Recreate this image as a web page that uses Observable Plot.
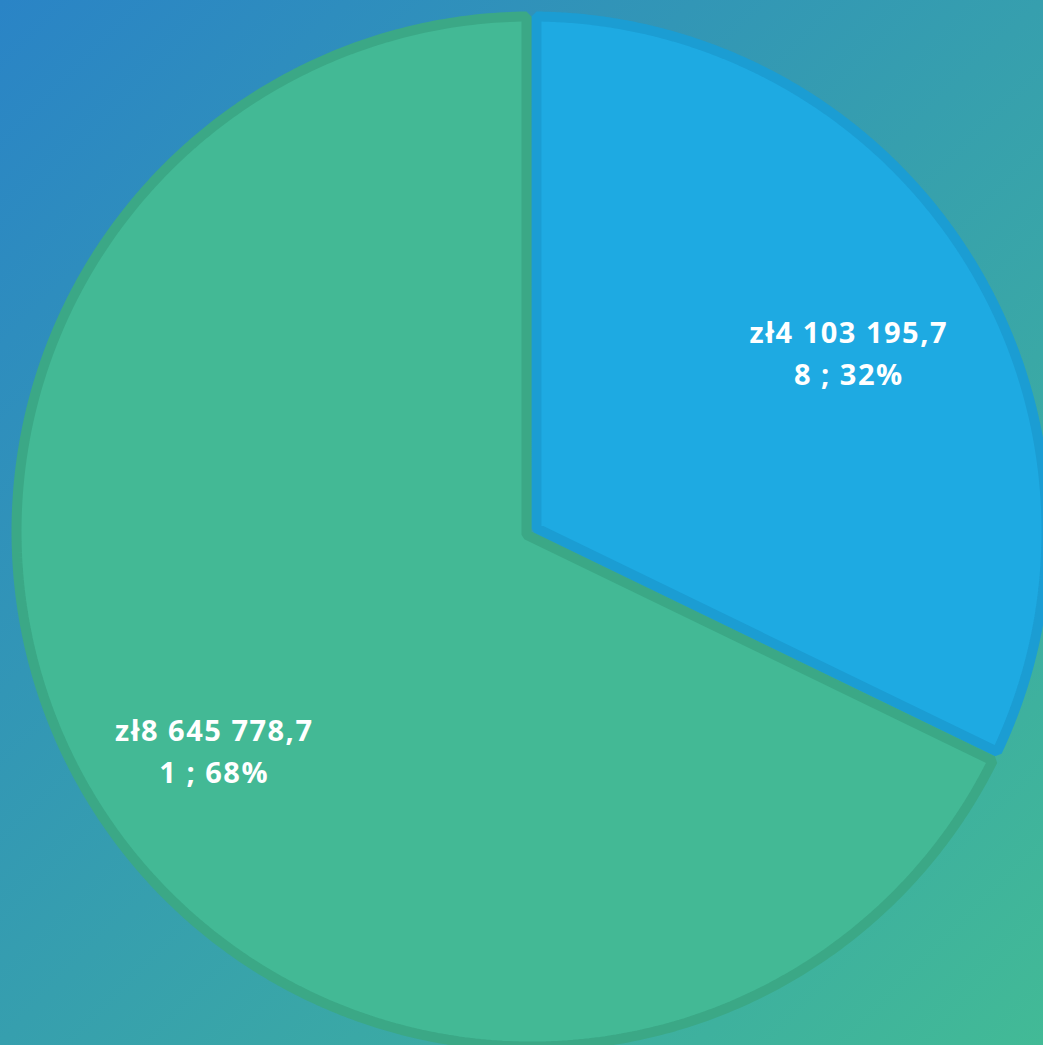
<!DOCTYPE html>
<html>
<head>
<meta charset="utf-8">
<script src="https://cdn.jsdelivr.net/npm/d3@7"></script>
<script src="https://cdn.jsdelivr.net/npm/@observablehq/plot@0.6"></script>
<style>
  html, body { margin: 0; padding: 0; background: #2f93c0; }
  #chart svg { display: block; }
</style>
</head>
<body>
<div id="chart"></div>
<script>
// ---- data ----
const categories = ["Część 1", "Część 2"];
const values = [4103195.78, 8645778.71];
const labels = ["zł4 103 195,7\n8 ; 32%", "zł8 645 778,7\n1 ; 68%"];
const fills = ["#1eaae2", "#43b995"];
const strokes = ["#1b9dd3", "#3ba886"];

// ---- layout ----
const W = 1043, H = 1045;
const cx = 531, cy = 531, R = 520;          // pixels
const strokeW = 10;
const d = (strokeW / 2) / R;                 // inset in radius units
const labelR = 0.72;

const arcs = d3.pie().sort(null)(values);

function pt(a, r) { return {x: r * Math.sin(a), y: r * Math.cos(a)}; }

const polys = [];
arcs.forEach((a, i) => {
  const a0 = a.startAngle, a1 = a.endAngle;
  const rr = 1 - d;
  const da = Math.asin(d / rr);
  const m = (a0 + a1) / 2;
  const t = d / Math.sin((a1 - a0) / 2);
  const apex = pt(m, t);
  polys.push({slice: categories[i], i, ...apex});
  const N = 400;
  for (let k = 0; k <= N; k++) {
    const ang = (a0 + da) + (a1 - a0 - 2 * da) * k / N;
    polys.push({slice: categories[i], i, ...pt(ang, rr)});
  }
});

const labelData = arcs.map((a, i) => {
  const m = (a.startAngle + a.endAngle) / 2;
  return {text: labels[i], ...pt(m, labelR)};
});

const chart = Plot.plot({
  width: W,
  height: H,
  margin: 0,
  x: {domain: [-cx / R, (W - cx) / R], axis: null},
  y: {domain: [-(H - cy) / R, cy / R], axis: null},
  color: {type: "identity"},
  style: {
    background: "linear-gradient(135deg, #2a84c6 0%, #42ba96 100%)",
    fontFamily: "'Open Sans', sans-serif",
    letterSpacing: "1.5px"
  },
  marks: [
    Plot.line(polys, {
      x: "x", y: "y", z: "slice",
      curve: "linear-closed",
      fill: d => fills[d.i],
      stroke: d => strokes[d.i],
      strokeWidth: strokeW,
      strokeLinejoin: "miter"
    }),
    Plot.text(labelData, {
      x: "x", y: "y", text: "text",
      dy: 18,
      fill: "white",
      fontSize: 29,
      fontWeight: 700,
      fontFamily: "'Open Sans', sans-serif",
      lineHeight: 1.45
    })
  ]
});
document.getElementById("chart").appendChild(chart);
</script>
</body>
</html>
